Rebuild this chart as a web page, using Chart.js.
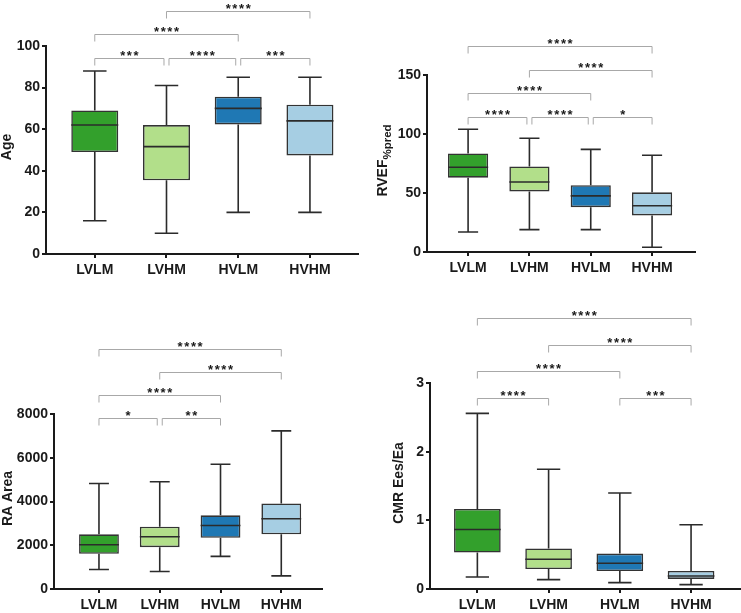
<!DOCTYPE html>
<html>
<head>
<meta charset="utf-8">
<script src="https://cdn.jsdelivr.net/npm/chart.js@4.4.1/dist/chart.umd.min.js"></script>
<style>
  body { margin: 0; background: #fff; }
  .panel { position: absolute; }
</style>
</head>
<body>
<div class="panel" style="left:0;top:0;width:370px;height:300px"><canvas id="age"></canvas></div>
<div class="panel" style="left:370px;top:0;width:371px;height:300px"><canvas id="rvef"></canvas></div>
<div class="panel" style="left:0;top:300px;width:370px;height:313px"><canvas id="ra"></canvas></div>
<div class="panel" style="left:370px;top:300px;width:371px;height:313px"><canvas id="cmr"></canvas></div>
<script>
// groups shown on every panel
const groups = ["LVLM", "LVHM", "HVLM", "HVHM"];

// Age
const ageMin = [16, 10, 20, 20];
const ageQ1 = [49, 35.4, 62.3, 47.4];
const ageMedian = [62, 51.6, 70, 64];
const ageQ3 = [69, 62, 75.6, 71.8];
const ageMax = [88, 81, 85, 85];
const ageTicks = [0, 20, 40, 60, 80, 100];
// [from, to, label, level]
const ageSig = [[0, 1, "***", 1], [1, 2, "****", 1], [2, 3, "***", 1], [0, 2, "****", 2], [1, 3, "****", 3]];

// RVEF %pred
const rvefMin = [17, 19, 19, 4];
const rvefQ1 = [63, 51.3, 38, 31];
const rvefMedian = [71.8, 59.3, 47.6, 39.2];
const rvefQ3 = [83.5, 72.5, 56.6, 50.6];
const rvefMax = [104, 96.4, 87, 82];
const rvefTicks = [0, 50, 100, 150];
const rvefSig = [[0, 1, "****", 1], [1, 2, "****", 1], [2, 3, "*", 1], [0, 2, "****", 2], [1, 3, "****", 3], [0, 3, "****", 4]];

// RA Area
const raMin = [890, 800, 1490, 600];
const raQ1 = [1610, 1910, 2340, 2500];
const raMedian = [2020, 2390, 2900, 3210];
const raQ3 = [2500, 2850, 3370, 3910];
const raMax = [4820, 4900, 5700, 7230];
const raTicks = [0, 2000, 4000, 6000, 8000];
const raSig = [[0, 1, "*", 1], [1, 2, "**", 1], [0, 2, "****", 2], [1, 3, "****", 3], [0, 3, "****", 4]];

// CMR Ees/Ea
const cmrMin = [0.175, 0.136, 0.093, 0.063];
const cmrQ1 = [0.53, 0.29, 0.262, 0.146];
const cmrMedian = [0.867, 0.433, 0.375, 0.19];
const cmrQ3 = [1.165, 0.59, 0.516, 0.263];
const cmrMax = [2.557, 1.744, 1.398, 0.935];
const cmrTicks = [0, 1, 2, 3];
const cmrSig = [[0, 1, "****", 1], [2, 3, "***", 1], [0, 2, "****", 2], [1, 3, "****", 3], [0, 3, "****", 4]];

const FONT = "'Liberation Sans', Arial, Helvetica, sans-serif";
const boxColors = ["#33a02c", "#b2df8a", "#1f78b4", "#a6cee3"];
const INK = "#1a1a1a";

Chart.defaults.font.family = FONT;
Chart.defaults.font.size = 14;
Chart.defaults.font.weight = "bold";
Chart.defaults.color = INK;

function makeBoxChart(id, s) {
  // whiskers, caps and median line drawn over the floating bars
  const whiskers = {
    id: "whiskers",
    afterDatasetsDraw(chart) {
      const { ctx } = chart;
      const y = chart.scales.y;
      ctx.save();
      ctx.strokeStyle = "#2b2b2b";
      ctx.lineWidth = 1.6;
      chart.getDatasetMeta(0).data.forEach((bar, i) => {
        const cx = bar.x, half = bar.width / 2, cap = bar.width / 4;
        const yMin = y.getPixelForValue(s.min[i]);
        const yMax = y.getPixelForValue(s.max[i]);
        const yQ1 = y.getPixelForValue(s.q1[i]);
        const yQ3 = y.getPixelForValue(s.q3[i]);
        const yMed = y.getPixelForValue(s.median[i]);
        ctx.beginPath();
        ctx.moveTo(cx, yQ3); ctx.lineTo(cx, yMax);
        ctx.moveTo(cx - cap, yMax); ctx.lineTo(cx + cap, yMax);
        ctx.moveTo(cx, yQ1); ctx.lineTo(cx, yMin);
        ctx.moveTo(cx - cap, yMin); ctx.lineTo(cx + cap, yMin);
        ctx.moveTo(cx - half, yMed); ctx.lineTo(cx + half, yMed);
        ctx.stroke();
      });
      ctx.restore();
    }
  };

  // significance brackets above the plot
  const brackets = {
    id: "brackets",
    afterDraw(chart) {
      const { ctx, chartArea } = chart;
      const x = chart.scales.x;
      ctx.save();
      ctx.strokeStyle = "#a8a8a8";
      ctx.lineWidth = 1;
      ctx.fillStyle = INK;
      ctx.font = "bold 13px " + FONT;
      ctx.textAlign = "center";
      ctx.textBaseline = "alphabetic";
      ctx.letterSpacing = "1.6px";
      s.sig.forEach(br => {
        const [a, b, label, level] = br;
        const yy = Math.round(chartArea.top + s.sigBase - (level - 1) * s.sigStep) + 0.5;
        const shared = i => s.sig.some(o => o !== br && o[3] === level && (o[0] === i || o[1] === i));
        let x1 = x.getPixelForValue(a), x2 = x.getPixelForValue(b);
        if (shared(a)) x1 += 2.5;
        if (shared(b)) x2 -= 2.5;
        ctx.beginPath();
        ctx.moveTo(x1, yy + 7); ctx.lineTo(x1, yy); ctx.lineTo(x2, yy); ctx.lineTo(x2, yy + 7);
        ctx.stroke();
        ctx.fillText(label, (x1 + x2) / 2 + 0.8, yy + 1);
      });
      ctx.restore();
    }
  };

  // rotated y-axis title, with optional subscript
  const yTitle = {
    id: "yTitle",
    afterDraw(chart) {
      const { ctx, chartArea } = chart;
      ctx.save();
      ctx.font = "bold 14px " + FONT;
      const mainW = ctx.measureText(s.title).width;
      let subW = 0;
      if (s.sub) {
        ctx.font = "bold 11.5px " + FONT;
        subW = ctx.measureText(s.sub).width;
      }
      const cy = (chartArea.top + chartArea.bottom) / 2 - 3;
      ctx.translate(s.titleX, cy);
      ctx.rotate(-Math.PI / 2);
      ctx.fillStyle = INK;
      ctx.textBaseline = "alphabetic";
      ctx.textAlign = "left";
      const start = -(mainW + subW) / 2;
      ctx.font = "bold 14px " + FONT;
      ctx.fillText(s.title, start, 0);
      if (s.sub) {
        ctx.font = "bold 11.5px " + FONT;
        ctx.fillText(s.sub, start + mainW, 4);
      }
      ctx.restore();
    }
  };

  const axisGrid = { drawOnChartArea: false, drawTicks: true, tickLength: 4, color: INK, lineWidth: 2, offset: false };

  return new Chart(document.getElementById(id), {
    type: "bar",
    data: {
      datasets: [{
        data: groups.map((g, i) => ({ x: i, y: [s.q1[i], s.q3[i]] })),
        backgroundColor: boxColors,
        borderColor: "#333",
        borderWidth: 1.6,
        borderSkipped: false,
        barPercentage: 0.655,
        categoryPercentage: 1
      }]
    },
    options: {
      responsive: true,
      maintainAspectRatio: false,
      animation: false,
      layout: { padding: { top: s.padTop, right: s.padRight, left: 0, bottom: 0 } },
      plugins: { legend: { display: false }, tooltip: { enabled: false } },
      scales: {
        x: {
          type: "linear",
          offset: false,
          min: s.xMin,
          max: s.xMax,
          afterBuildTicks: sc => { sc.ticks = groups.map((g, i) => ({ value: i })); },
          afterFit: sc => { sc.height = s.xHeight; },
          ticks: { callback: v => groups[v], padding: 4, maxRotation: 0, autoSkip: false },
          grid: axisGrid,
          border: { display: true, color: INK, width: 2 }
        },
        y: {
          min: 0,
          max: s.ticks[s.ticks.length - 1],
          afterBuildTicks: sc => { sc.ticks = s.ticks.map(v => ({ value: v })); },
          afterFit: sc => { sc.width = s.yWidth; },
          ticks: { padding: 2, callback: v => String(v) },
          grid: axisGrid,
          border: { display: true, color: INK, width: 2 }
        }
      }
    },
    plugins: [whiskers, brackets, yTitle]
  });
}

makeBoxChart("age", {
  min: ageMin, q1: ageQ1, median: ageMedian, q3: ageQ3, max: ageMax, ticks: ageTicks, sig: ageSig,
  title: "Age", titleX: 11,
  xMin: -0.68, xMax: 3.67, yWidth: 46, xHeight: 46, padTop: 46, padRight: 12,
  sigBase: 12, sigStep: 23.7
});

makeBoxChart("rvef", {
  min: rvefMin, q1: rvefQ1, median: rvefMedian, q3: rvefQ3, max: rvefMax, ticks: rvefTicks, sig: rvefSig,
  title: "RVEF", sub: "%pred", titleX: 17,
  xMin: -0.67, xMax: 3.7, yWidth: 57, xHeight: 48, padTop: 75, padRight: 46,
  sigBase: 42, sigStep: 23.7
});

makeBoxChart("ra", {
  min: raMin, q1: raQ1, median: raMedian, q3: raQ3, max: raMax, ticks: raTicks, sig: raSig,
  title: "RA Area", titleX: 12,
  xMin: -0.74, xMax: 3.67, yWidth: 54, xHeight: 24, padTop: 114, padRight: 48,
  sigBase: 4.3, sigStep: 23.1
});

makeBoxChart("cmr", {
  min: cmrMin, q1: cmrQ1, median: cmrMedian, q3: cmrQ3, max: cmrMax, ticks: cmrTicks, sig: cmrSig,
  title: "CMR Ees/Ea", titleX: 33,
  xMin: -0.665, xMax: 3.68, yWidth: 60, xHeight: 24, padTop: 83, padRight: 1.5,
  sigBase: 15, sigStep: 26.7
});
</script>
</body>
</html>
